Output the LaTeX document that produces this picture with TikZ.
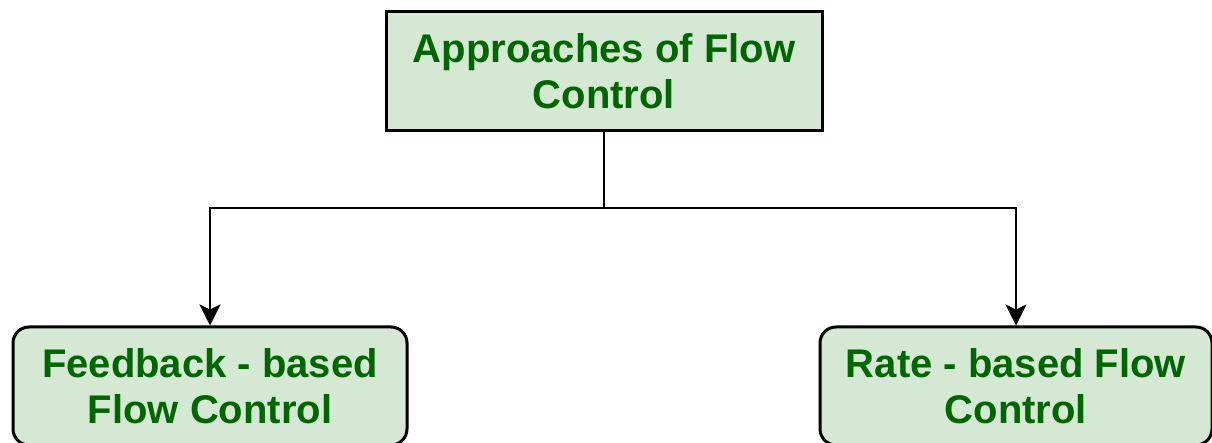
\documentclass[tikz,border=0pt]{standalone}
\usepackage{fontspec}
\setmainfont{Liberation Sans}
\usetikzlibrary{arrows.meta}
\definecolor{boxfill}{HTML}{D5E8D4}
\definecolor{txtgreen}{HTML}{006600}
\tikzset{
  topbox/.style={draw=black, line width=3pt, fill=boxfill, text=txtgreen,
    minimum width=436pt, minimum height=119pt, inner sep=0pt, align=center,
    font=\fontsize{40}{46}\selectfont\bfseries},
  leafbox/.style={topbox, rounded corners=16pt, minimum width=394pt, minimum height=118pt},
  conn/.style={draw=black, line width=2.8pt},
  arr/.style={conn, -{Stealth[length=21pt,width=21pt,inset=5pt]}}
}
\begin{document}
\begin{tikzpicture}[x=1pt,y=-1pt]
\useasboundingbox (0,0) rectangle (1212,443);
\clip (0,0) rectangle (1212,443);
\node[topbox] (top) at (604,71.5) {Approaches of Flow\\Control};
\node[leafbox] (left) at (210,386) {Feedback - based\\Flow Control};
\node[leafbox, minimum width=392pt] (right) at (1016,386) {Rate - based Flow\\Control};
\coordinate (junc) at (604,208);
\draw[conn] (top.south) -- (junc);
\draw[arr] (junc) -| (left.north);
\draw[arr] (junc) -| (right.north);
\end{tikzpicture}
\end{document}
